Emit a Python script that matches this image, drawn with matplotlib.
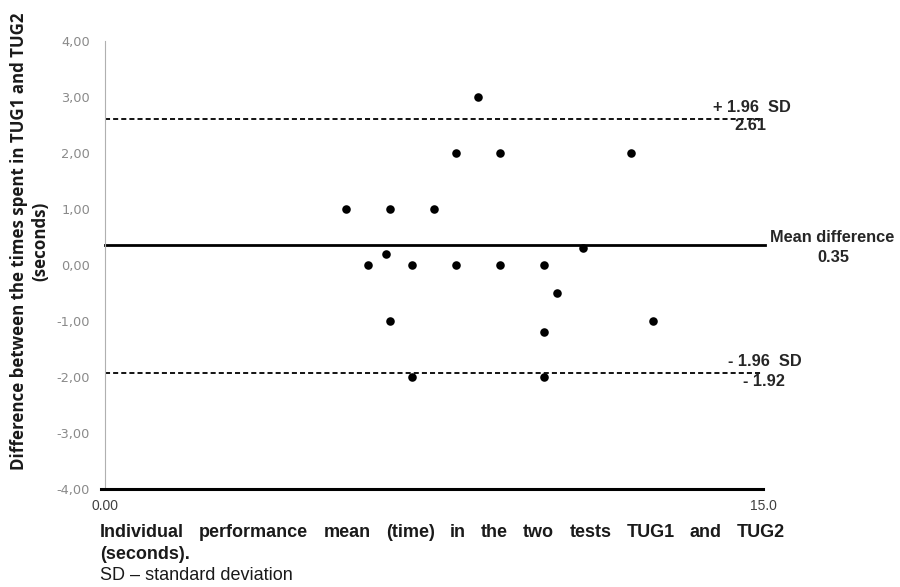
import matplotlib
matplotlib.use("Agg")
import matplotlib.pyplot as plt

# Data: individual mean time (s) and difference TUG1 - TUG2 (s)
mean_time = [8.5, 8.0, 9.0, 5.5, 6.5, 7.5, 6.4, 6.0, 7.0, 8.0, 9.0, 10.0,
             10.9, 10.3, 6.5, 10.0, 7.0, 10.0, 12.0, 12.5]
difference = [3.0, 2.0, 2.0, 1.0, 1.0, 1.0, 0.2, 0.0, 0.0, 0.0, 0.0, 0.0,
              0.3, -0.5, -1.0, -1.2, -2.0, -2.0, 2.0, -1.0]
mean_diff = 0.35
upper_loa = 2.61
lower_loa = -1.92
y_ticks = [4, 3, 2, 1, 0, -1, -2, -3, -4]
y_tick_labels = ["4,00", "3,00", "2,00", "1,00", "0,00", "-1,00", "-2,00", "-3,00", "-4,00"]
x_tick_vals = [0, 15]
x_tick_labels = ["0.00", "15.0"]

W, H = 900, 587
fig = plt.figure(figsize=(9, 5.87), dpi=100)
ax = fig.add_axes([105 / W, 1 - 489 / H, (763 - 105) / W, (489 - 41) / H])
ax.set_xlim(0, 15)
ax.set_ylim(-4, 4)

ax.scatter(mean_time, difference, s=38, color="black", zorder=3, clip_on=False,
           linewidths=0)
ax.axhline(mean_diff, color="black", lw=2.0, xmax=1.003, clip_on=False)
ax.axhline(upper_loa, color="black", lw=1.3, ls=(0, (2.8, 1.7)), clip_on=False)
ax.axhline(lower_loa, color="black", lw=1.3, ls=(0, (2.8, 1.7)), clip_on=False)

for s in ["top", "right"]:
    ax.spines[s].set_visible(False)
ax.spines["left"].set_color("#b0b0b0")
ax.spines["left"].set_linewidth(0.8)
ax.spines["bottom"].set_visible(False)
ax.plot([-0.1, 15], [-4, -4], color="black", lw=2.2, clip_on=False, zorder=4)

ax.set_yticks(y_ticks)
ax.set_yticklabels(y_tick_labels, family="DejaVu Sans", fontsize=9.3, color="#8a8a8a")
ax.tick_params(axis="y", length=0, pad=10.8)
ax.set_xticks(x_tick_vals)
ax.set_xticklabels(x_tick_labels, family="Liberation Sans", fontsize=10, color="#404040")
ax.tick_params(axis="x", length=0, pad=7)

# Labels for limits
tkw = dict(family="Liberation Sans", fontweight="bold", color="#262626", fontsize=11.8)
fig.text(752 / W, 1 - 108 / H, "+ 1.96  SD", ha="center", va="center", **tkw)
fig.text(750.5 / W, 1 - 126 / H, "2.61", ha="center", va="center", **tkw)
fig.text(832 / W, 1 - 237 / H, "Mean difference", ha="center", va="center", **tkw)
fig.text(833 / W, 1 - 257 / H, "0.35", ha="center", va="center", **tkw)
fig.text(764.5 / W, 1 - 361 / H, "- 1.96  SD", ha="center", va="center", **tkw)
fig.text(764 / W, 1 - 381 / H, "- 1.92", ha="center", va="center", **tkw)

fig.canvas.draw()
renderer = fig.canvas.get_renderer()

# Y label (two lines, fitted to reference length)
ylab_kw = dict(rotation=90, ha="center", va="center", family="Open Sans",
               fontweight="bold", color="#1a1a1a")
l1 = fig.text(19 / W, 1 - 241 / H, "Difference between the times spent in TUG1 and TUG2",
              fontsize=12, **ylab_kw)
bb = l1.get_window_extent(renderer=renderer)
fs = 12 * 455 / bb.height
l1.set_fontsize(fs)
fig.text(40 / W, 1 - 241 / H, "(seconds)", fontsize=fs, **ylab_kw)

# X label (justified first line)
xl_kw = dict(family="Liberation Sans", fontweight="bold", fontsize=13, color="#1a1a1a")
words = ["Individual", "performance", "mean", "(time)", "in", "the", "two", "tests", "TUG1", "and", "TUG2"]
x0, x1 = 100, 785
texts = []
widths = []
for w_ in words:
    t = fig.text(0, 1 - 537 / H, w_, ha="left", va="baseline", **xl_kw)
    b = t.get_window_extent(renderer=renderer)
    texts.append(t)
    widths.append(b.width)
gap = (x1 - x0 - sum(widths)) / (len(words) - 1)
cur = x0
for t, wd in zip(texts, widths):
    t.set_x(cur / W)
    cur += wd + gap
fig.text(x0 / W, 1 - 559 / H, "(seconds).", ha="left", va="baseline", **xl_kw)
fig.text(x0 / W, 1 - 580 / H, "SD \u2013 standard deviation", ha="left", va="baseline",
         family="Liberation Sans", fontsize=13, color="#1a1a1a")

fig.savefig("out.png", dpi=100)
